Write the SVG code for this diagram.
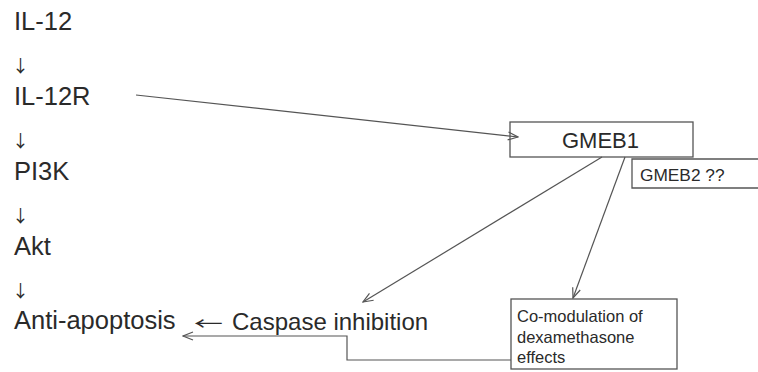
<svg xmlns="http://www.w3.org/2000/svg" width="758" height="372" viewBox="0 0 758 372">
<defs>
<style>
text{font-family:"Liberation Sans",Arial,sans-serif;fill:#2a2a2a}
.big{font-size:25.5px}
.mid{font-size:24px}
.arr{font-family:"Noto Sans CJK SC",sans-serif;font-size:17px}
.box{fill:#fff;stroke:#555;stroke-width:1.3}
.conn{fill:none;stroke:#555;stroke-width:1.2}
</style>
<marker id="ah" viewBox="0 0 12 10" refX="11" refY="5" markerWidth="12" markerHeight="10" markerUnits="userSpaceOnUse" orient="auto">
<path d="M1,1 L11,5 L1,9" fill="none" stroke="#555" stroke-width="1.2"/>
</marker>
</defs>
<rect width="758" height="372" fill="#fff"/>
<g id="pathway">
<text class="big" x="14" y="30">IL-12</text>
<text class="arr" x="12" y="72">↓</text>
<text class="big" x="14" y="105">IL-12R</text>
<text class="arr" x="12" y="147">↓</text>
<text class="big" x="14" y="180">PI3K</text>
<text class="arr" x="12" y="222">↓</text>
<text class="big" x="14" y="255">Akt</text>
<text class="arr" x="12" y="297">↓</text>
<text class="big" x="14" y="329">Anti-apoptosis</text>
</g>
<g id="caspase">
<text class="arr" transform="translate(194,0) scale(1.7,1)" x="0" y="330" font-size="24">←</text>
<text class="mid" x="232" y="330">Caspase inhibition</text>
</g>
<g id="gmeb1">
<rect class="box" x="510" y="122" width="183" height="35"/>
<text x="562" y="148" font-size="22">GMEB1</text>
</g>
<g id="gmeb2">
<path class="box" d="M760,159 H632 V188 H760"/>
<text x="640" y="181" font-size="17.3">GMEB2 ??</text>
</g>
<g id="comod">
<rect class="box" x="511" y="299" width="166" height="70"/>
<text x="517" y="322" font-size="16.5">Co-modulation of</text>
<text x="517" y="343" font-size="16.5">dexamethasone</text>
<text x="517" y="363" font-size="16.5">effects</text>
</g>
<g id="connectors">
<line class="conn" x1="136" y1="95" x2="518" y2="137" marker-end="url(#ah)"/>
<line class="conn" x1="602" y1="157" x2="363" y2="302" marker-end="url(#ah)"/>
<line class="conn" x1="625" y1="157" x2="573" y2="298" marker-end="url(#ah)"/>
<path class="conn" d="M511,360 H347 V336 H183" marker-end="url(#ah)"/>
</g>
</svg>
